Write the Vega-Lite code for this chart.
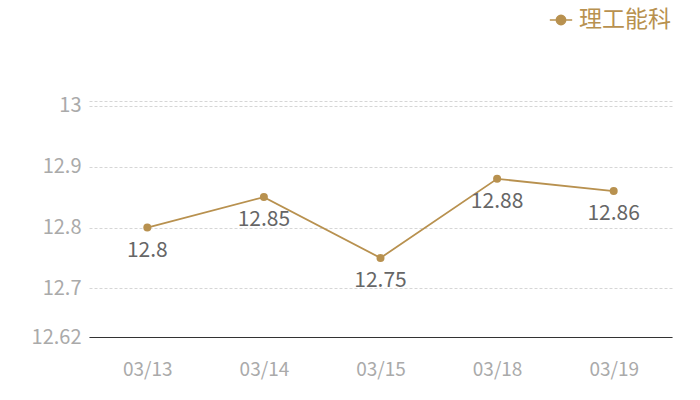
{
  "$schema": "https://vega.github.io/schema/vega-lite/v6.json",
  "width": 583,
  "height": 236,
  "autosize": {"type": "none"},
  "padding": {"left": 89, "top": 101, "right": 28, "bottom": 63},
  "background": "white",
  "config": {
    "view": {"stroke": null},
    "font": "Noto Sans CJK SC"
  },
  "data": {
    "values": [
      {"date": "03/13", "value": 12.8, "series": "理工能科"},
      {"date": "03/14", "value": 12.85, "series": "理工能科"},
      {"date": "03/15", "value": 12.75, "series": "理工能科"},
      {"date": "03/18", "value": 12.88, "series": "理工能科"},
      {"date": "03/19", "value": 12.86, "series": "理工能科"}
    ]
  },
  "encoding": {
    "x": {
      "field": "date",
      "type": "nominal",
      "sort": null,
      "scale": {"paddingInner": 0, "paddingOuter": 0, "align": 0.5},
      "axis": {
        "title": null,
        "labelAngle": 0,
        "labelColor": "#aaaaaa",
        "labelFontSize": 19,
        "labelPadding": 23,
        "ticks": false,
        "domainColor": "#333333",
        "domainWidth": 1.2,
        "grid": false
      }
    },
    "y": {
      "field": "value",
      "type": "quantitative",
      "scale": {"domain": [12.62, 13.008], "nice": false, "zero": false},
      "axis": {
        "title": null,
        "values": [12.62, 12.7, 12.8, 12.9, 13, 13.008],
        "labelExpr": "datum.value > 13.001 ? '' : datum.label",
        "format": "~g",
        "labelColor": "#aaaaaa",
        "labelFontSize": 20,
        "labelPadding": 8,
        "ticks": false,
        "domain": false,
        "grid": true,
        "gridColor": "#cccccc",
        "gridDash": [3, 2],
        "gridWidth": 0.8
      }
    },
    "color": {
      "field": "series",
      "type": "nominal",
      "scale": {"range": ["#b8914f"]},
      "legend": {
        "title": null,
        "orient": "none",
        "legendX": 460,
        "legendY": -93,
        "symbolType": "M-1,0L1,0M-0.42,0A0.42,0.42 0 1 1 0.42,0A0.42,0.42 0 1 1 -0.42,0Z",
        "symbolSize": 500,
        "symbolStrokeWidth": 1.5,
        "symbolFillColor": "#b8914f",
        "symbolStrokeColor": "#b8914f",
        "labelColor": "#b8914f",
        "labelFontSize": 23,
        "labelOffset": 6,
        "labelLimit": 200
      }
    }
  },
  "layer": [
    {"mark": {"type": "line", "strokeWidth": 1.8}},
    {"mark": {"type": "point", "filled": true, "size": 64, "opacity": 1}},
    {
      "mark": {"type": "text", "dy": 23, "fontSize": 21, "color": "#666666"},
      "encoding": {
        "text": {"field": "value", "type": "quantitative", "format": "~g"},
        "color": {"value": "#666666"}
      }
    }
  ]
}
